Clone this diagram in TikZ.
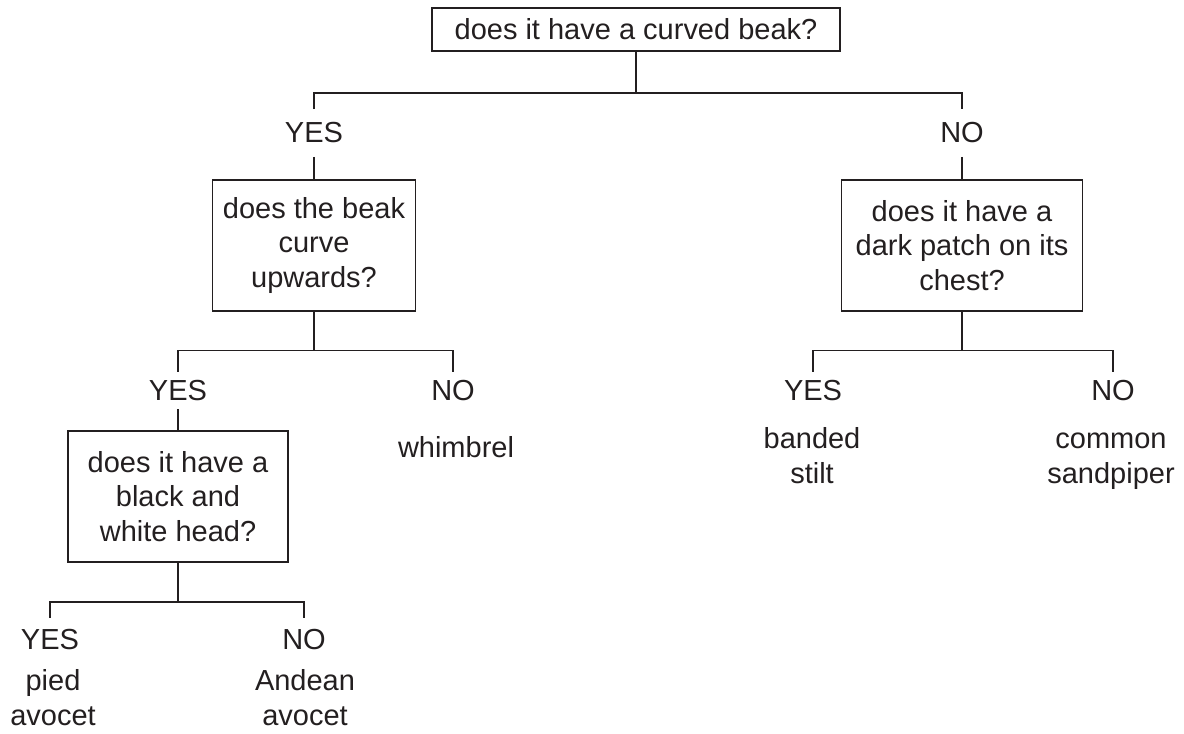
\documentclass[tikz,border=0pt]{standalone}
\usepackage{fontspec}
\setmainfont{Liberation Sans}

\begin{document}
\begin{tikzpicture}[x=1cm,y=1cm,
		frage/.style={draw=ink, line width=0.8pt, align=center, inner sep=0pt, text=ink, font=\fontsize{16.5}{19.8}\selectfont},
		antwort/.style={inner sep=0pt, text=ink, font=\fontsize{16.5}{19.8}\selectfont},
		vogel/.style={align=center, inner sep=0pt, text=ink, font=\fontsize{16.5}{19.8}\selectfont},
		kante/.style={draw=ink, line width=1.1pt}]
	
	% Farben
	\definecolor{ink}{RGB}{35,31,32}
	
	% Rahmen
	\useasboundingbox (0,0) rectangle (23.68,14.66);
	
	% Wurzel
	\node[frage, minimum width=8.16cm, minimum height=0.86cm] (q0) at (12.72,14.07) {does it have a curved beak?};
	\coordinate (b0) at (12.72,12.80);
	\node[antwort, minimum height=0.94cm] (y0) at (6.28,12.0) {YES};
	\node[antwort, minimum height=0.94cm] (n0) at (19.24,12.0) {NO};
	\draw[kante] (q0.south) -- (b0);
	\draw[kante] (y0.north) |- (b0) -| (n0.north);
	
	% Linker Ast
	\node[frage, minimum width=4.06cm, minimum height=2.62cm] (q1) at (6.28,9.75) {does the beak\\curve\\upwards?};
	\draw[kante] (y0.south) -- (q1.north);
	\coordinate (b1) at (6.28,7.65);
	\node[antwort, minimum height=0.74cm] (y1) at (3.56,6.85) {YES};
	\node[antwort, minimum height=0.74cm] (n1) at (9.06,6.85) {NO};
	\draw[kante] (q1.south) -- (b1);
	\draw[kante] (y1.north) |- (b1) -| (n1.north);
	\node[vogel] (v1) at (9.12,5.72) {whimbrel};
	
	\node[frage, minimum width=4.4cm, minimum height=2.62cm] (q3) at (3.56,4.73) {does it have a\\black and\\white head?};
	\draw[kante] (y1.south) -- (q3.north);
	\coordinate (b3) at (3.56,2.62);
	\node[antwort, minimum height=0.88cm] (y3) at (1.0,1.86) {YES};
	\node[antwort, minimum height=0.88cm] (n3) at (6.08,1.86) {NO};
	\draw[kante] (q3.south) -- (b3);
	\draw[kante] (y3.north) |- (b3) -| (n3.north);
	\node[vogel] (v3) at (1.06,0.64) {\strut pied\\\strut avocet};
	\node[vogel] (v4) at (6.1,0.64) {\strut Andean\\\strut avocet};
	
	% Rechter Ast
	\node[frage, minimum width=4.82cm, minimum height=2.62cm] (q2) at (19.24,9.75) {does it have a\\dark patch on its\\chest?};
	\draw[kante] (n0.south) -- (q2.north);
	\coordinate (b2) at (19.24,7.65);
	\node[antwort, minimum height=0.74cm] (y2) at (16.26,6.85) {YES};
	\node[antwort, minimum height=0.74cm] (n2) at (22.26,6.85) {NO};
	\draw[kante] (q2.south) -- (b2);
	\draw[kante] (y2.north) |- (b2) -| (n2.north);
	\node[vogel] (v5) at (16.24,5.48) {\strut banded\\\strut stilt};
	\node[vogel] (v6) at (22.22,5.48) {\strut common\\\strut sandpiper};
	
\end{tikzpicture}
\end{document}
